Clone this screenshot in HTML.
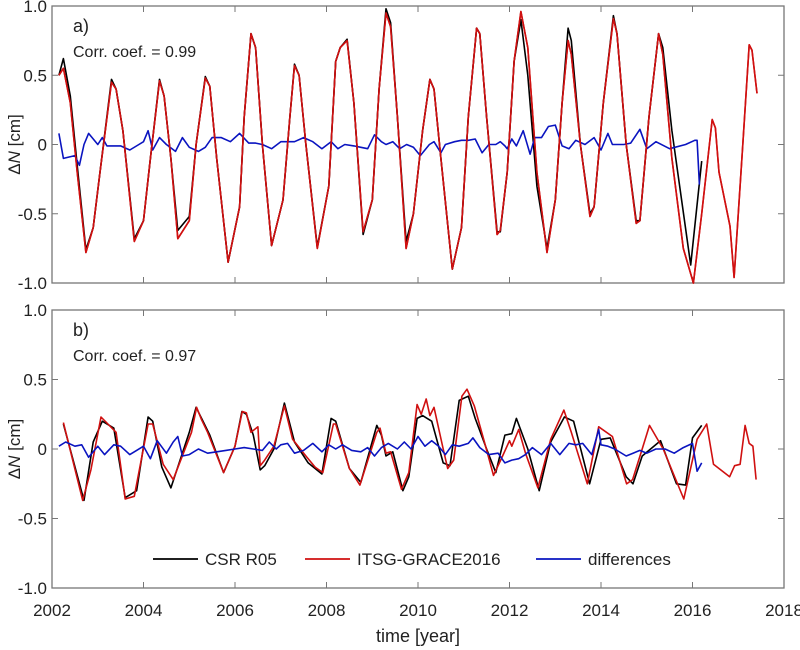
<!DOCTYPE html>
<html><head><meta charset="utf-8"><style>
body{margin:0;background:#fff;}
svg{display:block;font-family:"Liberation Sans",Arial,sans-serif;}
</style></head><body>
<svg id="chart" width="800" height="650" viewBox="0 0 800 650" xmlns="http://www.w3.org/2000/svg"></svg>
<script>
const xTicks=[2002,2004,2006,2008,2010,2012,2014,2016,2018];
const yTicks=[-1,-0.5,0,0.5,1];
const yTickLabels=["-1.0","-0.5","0","0.5","1.0"];
const topRedT=[2002.15,2002.25,2002.4,2002.55,2002.74,2002.9,2003.05,2003.3,2003.4,2003.55,2003.8,2004.0,2004.15,2004.35,2004.45,2004.6,2004.75,2005.0,2005.15,2005.35,2005.45,2005.6,2005.85,2006.1,2006.2,2006.35,2006.45,2006.6,2006.8,2007.05,2007.2,2007.3,2007.4,2007.55,2007.8,2008.05,2008.2,2008.3,2008.45,2008.6,2008.8,2009.0,2009.15,2009.3,2009.4,2009.55,2009.74,2009.9,2010.1,2010.26,2010.35,2010.5,2010.75,2010.95,2011.1,2011.28,2011.35,2011.5,2011.73,2011.8,2011.95,2012.1,2012.25,2012.4,2012.6,2012.82,2013.0,2013.15,2013.28,2013.35,2013.55,2013.76,2013.85,2014.05,2014.27,2014.35,2014.55,2014.77,2014.85,2015.05,2015.26,2015.35,2015.55,2015.8,2016.02,2016.2,2016.43,2016.5,2016.58,2016.82,2016.91,2017.1,2017.24,2017.3,2017.41];
const topRed=[0.5,0.55,0.3,-0.2,-0.78,-0.6,-0.2,0.45,0.4,0.1,-0.7,-0.55,-0.1,0.46,0.35,-0.1,-0.68,-0.55,0.0,0.48,0.42,-0.1,-0.85,-0.45,0.2,0.8,0.7,0.0,-0.73,-0.4,0.2,0.57,0.5,0.0,-0.75,-0.3,0.6,0.7,0.75,0.3,-0.63,-0.4,0.4,0.95,0.85,0.2,-0.75,-0.5,0.1,0.47,0.4,-0.1,-0.9,-0.6,0.2,0.84,0.8,0.2,-0.65,-0.62,-0.2,0.6,0.96,0.7,-0.2,-0.78,-0.4,0.3,0.75,0.65,0.0,-0.52,-0.45,0.3,0.91,0.8,0.0,-0.57,-0.55,0.2,0.8,0.65,-0.1,-0.75,-1.0,-0.5,0.18,0.12,-0.2,-0.59,-0.96,0.0,0.72,0.68,0.37];
const topBlackT=[2002.15,2002.25,2002.4,2002.55,2002.74,2002.9,2003.05,2003.3,2003.4,2003.55,2003.8,2004.0,2004.15,2004.35,2004.45,2004.6,2004.75,2005.0,2005.15,2005.35,2005.45,2005.6,2005.85,2006.1,2006.2,2006.35,2006.45,2006.6,2006.8,2007.05,2007.2,2007.3,2007.4,2007.55,2007.8,2008.05,2008.2,2008.3,2008.45,2008.6,2008.8,2009.0,2009.15,2009.3,2009.4,2009.55,2009.74,2009.9,2010.1,2010.26,2010.35,2010.5,2010.75,2010.95,2011.1,2011.28,2011.35,2011.5,2011.73,2011.8,2011.95,2012.1,2012.25,2012.4,2012.6,2012.82,2013.0,2013.15,2013.28,2013.35,2013.55,2013.76,2013.85,2014.05,2014.27,2014.35,2014.55,2014.77,2014.85,2015.05,2015.26,2015.35,2015.55,2015.96,2016.2];
const topBlack=[0.5,0.62,0.35,-0.15,-0.76,-0.6,-0.2,0.47,0.4,0.1,-0.68,-0.55,-0.1,0.47,0.35,-0.1,-0.62,-0.52,0.0,0.49,0.42,-0.1,-0.85,-0.45,0.2,0.8,0.7,0.0,-0.73,-0.4,0.2,0.58,0.5,0.0,-0.74,-0.3,0.6,0.7,0.76,0.3,-0.65,-0.4,0.4,0.98,0.88,0.2,-0.7,-0.5,0.1,0.47,0.4,-0.1,-0.9,-0.6,0.2,0.84,0.8,0.2,-0.63,-0.63,-0.2,0.6,0.9,0.5,-0.3,-0.75,-0.4,0.3,0.84,0.75,0.0,-0.5,-0.45,0.3,0.93,0.8,0.0,-0.55,-0.55,0.2,0.8,0.7,0.1,-0.87,-0.12];
const topBlueT=[2002.15,2002.25,2002.5,2002.6,2002.7,2002.8,2003.0,2003.1,2003.2,2003.35,2003.5,2003.7,2003.9,2004.0,2004.1,2004.2,2004.35,2004.5,2004.7,2004.85,2005.0,2005.2,2005.35,2005.5,2005.7,2005.9,2006.1,2006.3,2006.45,2006.6,2006.8,2007.0,2007.15,2007.3,2007.5,2007.7,2007.9,2008.1,2008.25,2008.4,2008.6,2008.75,2008.9,2009.05,2009.2,2009.3,2009.45,2009.6,2009.75,2009.9,2010.05,2010.25,2010.35,2010.5,2010.6,2010.8,2010.95,2011.1,2011.25,2011.4,2011.55,2011.7,2011.8,2011.9,2011.95,2012.05,2012.15,2012.3,2012.45,2012.55,2012.7,2012.85,2013.0,2013.15,2013.3,2013.45,2013.65,2013.85,2014.0,2014.15,2014.25,2014.4,2014.5,2014.65,2014.85,2015.0,2015.2,2015.5,2015.85,2016.05,2016.1,2016.15];
const topBlue=[0.08,-0.1,-0.08,-0.15,0.0,0.08,0.0,0.05,-0.01,-0.01,-0.01,-0.04,0.0,0.02,0.1,-0.04,0.05,0.0,-0.05,0.05,-0.02,-0.05,-0.02,0.05,0.05,0.02,0.08,0.01,0.01,0.0,-0.03,0.02,0.02,0.02,0.05,0.02,-0.03,0.02,-0.03,0.0,-0.01,-0.02,-0.03,0.07,0.02,0.0,0.02,-0.03,0.0,-0.02,-0.08,0.0,0.02,-0.06,0.0,0.02,0.03,0.03,0.04,-0.06,0.0,0.0,0.02,-0.01,-0.03,0.04,-0.01,0.1,-0.07,0.05,0.05,0.13,0.14,-0.01,-0.03,0.03,0.0,0.05,-0.04,0.08,0.0,0.0,0.0,0.01,0.11,-0.03,0.02,-0.03,0.0,0.03,0.03,-0.29];
const botRedT=[2002.25,2002.67,2002.85,2003.07,2003.4,2003.6,2003.8,2004.1,2004.2,2004.43,2004.65,2005.05,2005.16,2005.27,2005.4,2005.75,2006.0,2006.16,2006.25,2006.35,2006.5,2006.55,2006.65,2006.85,2007.08,2007.26,2007.55,2007.75,2007.92,2008.15,2008.2,2008.5,2008.73,2009.1,2009.17,2009.3,2009.4,2009.64,2009.8,2009.98,2010.07,2010.18,2010.26,2010.35,2010.55,2010.65,2010.78,2010.96,2011.07,2011.23,2011.46,2011.65,2011.85,2012.0,2012.05,2012.2,2012.35,2012.62,2012.9,2013.19,2013.35,2013.7,2013.95,2014.25,2014.56,2014.69,2014.9,2015.06,2015.36,2015.81,2016.1,2016.31,2016.46,2016.81,2016.92,2017.04,2017.15,2017.24,2017.32,2017.39];
const botRed=[0.19,-0.37,-0.15,0.23,0.12,-0.36,-0.34,0.18,0.18,-0.11,-0.22,0.12,0.30,0.21,0.12,-0.17,0.02,0.27,0.26,0.12,0.16,-0.12,-0.08,0.02,0.31,0.07,-0.05,-0.13,-0.17,0.18,0.18,-0.14,-0.26,0.12,0.15,-0.03,-0.02,-0.29,-0.17,0.32,0.25,0.36,0.24,0.30,0.0,-0.14,-0.08,0.38,0.43,0.31,0.04,-0.19,-0.05,0.06,0.02,0.14,-0.03,-0.28,0.07,0.28,0.12,-0.25,0.16,0.09,-0.25,-0.22,0.0,0.17,0.0,-0.36,0.07,0.18,-0.11,-0.2,-0.12,-0.11,0.17,0.04,0.02,-0.22];
const botBlackT=[2002.25,2002.7,2002.9,2003.1,2003.35,2003.6,2003.85,2004.1,2004.2,2004.4,2004.6,2005.0,2005.15,2005.3,2005.45,2005.75,2006.0,2006.15,2006.25,2006.4,2006.55,2006.65,2006.85,2007.08,2007.3,2007.6,2007.9,2008.1,2008.2,2008.5,2008.75,2009.1,2009.2,2009.3,2009.45,2009.67,2009.8,2009.98,2010.1,2010.2,2010.3,2010.55,2010.7,2010.9,2011.1,2011.25,2011.5,2011.7,2011.9,2012.05,2012.15,2012.4,2012.65,2012.9,2013.2,2013.4,2013.75,2014.0,2014.2,2014.55,2014.7,2014.9,2015.3,2015.65,2015.85,2016.0,2016.2];
const botBlack=[0.18,-0.37,0.05,0.2,0.15,-0.35,-0.3,0.23,0.2,-0.13,-0.28,0.12,0.3,0.2,0.1,-0.17,0.02,0.27,0.25,0.1,-0.15,-0.12,0.0,0.33,0.05,-0.1,-0.18,0.22,0.2,-0.14,-0.24,0.17,0.1,-0.05,-0.02,-0.3,-0.2,0.22,0.24,0.22,0.2,-0.1,-0.12,0.35,0.38,0.22,0.0,-0.17,0.1,0.11,0.22,0.0,-0.3,0.05,0.23,0.2,-0.25,0.07,0.08,-0.2,-0.25,-0.05,0.06,-0.25,-0.26,0.08,0.17];
const botBlueT=[2002.15,2002.3,2002.5,2002.65,2002.8,2003.0,2003.15,2003.35,2003.5,2003.7,2003.85,2004.0,2004.15,2004.3,2004.5,2004.65,2004.75,2004.85,2005.0,2005.2,2005.4,2005.6,2005.8,2006.0,2006.2,2006.4,2006.6,2006.75,2006.9,2007.0,2007.15,2007.3,2007.5,2007.7,2007.9,2008.05,2008.2,2008.35,2008.55,2008.75,2008.9,2009.05,2009.2,2009.35,2009.55,2009.7,2009.85,2010.0,2010.15,2010.3,2010.45,2010.6,2010.75,2010.9,2011.1,2011.2,2011.35,2011.55,2011.75,2011.9,2012.05,2012.2,2012.35,2012.5,2012.7,2012.9,2013.1,2013.3,2013.45,2013.6,2013.8,2013.95,2014.0,2014.15,2014.3,2014.55,2014.7,2014.85,2015.0,2015.2,2015.4,2015.6,2015.8,2016.0,2016.1,2016.2];
const botBlue=[0.02,0.05,0.02,0.03,-0.06,0.02,-0.04,0.03,0.02,-0.04,-0.01,0.02,-0.07,0.06,-0.03,0.05,0.09,-0.05,-0.04,0.0,-0.03,-0.02,-0.01,0.0,0.01,0.0,-0.01,0.05,0.0,0.03,0.04,-0.03,-0.01,0.04,-0.02,0.03,0.0,0.03,-0.01,-0.02,0.01,-0.05,0.01,0.04,0.0,0.05,0.0,0.09,0.02,0.06,0.02,-0.04,0.03,0.02,0.04,0.08,0.01,-0.04,-0.03,-0.1,-0.08,-0.07,-0.04,0.01,-0.04,0.04,-0.04,0.04,0.03,0.04,-0.04,0.14,0.03,0.02,0.0,-0.05,-0.03,-0.01,-0.03,0.0,0.0,-0.03,0.01,0.04,-0.16,-0.1];

const NS='http://www.w3.org/2000/svg';
const svg=document.getElementById('chart');
const X0=52,X1=784;
function xs(t){return X0+(t-2002)/(2018-2002)*(X1-X0);}
function mk(tag,attrs,parent){const e=document.createElementNS(NS,tag);for(const k in attrs)e.setAttribute(k,attrs[k]);(parent||svg).appendChild(e);return e;}
function panel(key,top,bot,showX,label,corr,series){
  const g=mk('g',{});
  
  
  const ys=v=>top+(1-v)/2*(bot-top);
  const box=mk('rect',{x:X0,y:top,width:X1-X0,height:bot-top,fill:'none',stroke:'#777','stroke-width':1.3},g);
  
  
  xTicks.forEach(t=>{const x=xs(t);
    mk('line',{x1:x,x2:x,y1:bot,y2:bot-6,stroke:'#777'},g);
    mk('line',{x1:x,x2:x,y1:top,y2:top+6,stroke:'#777'},g);
    if(showX){const tx=mk('text',{x:x,y:bot+28,'text-anchor':'middle','font-size':17,fill:'#222'},g);tx.textContent=t;
      
      }
  });
  yTicks.forEach((v,i)=>{const y=ys(v);
    mk('line',{x1:X0,x2:X0+6,y1:y,y2:y,stroke:'#777'},g);
    mk('line',{x1:X1,x2:X1-6,y1:y,y2:y,stroke:'#777'},g);
    const tx=mk('text',{x:X0-5,y:y+6,'text-anchor':'end','font-size':17,fill:'#222'},g);tx.textContent=yTickLabels[i];
    
    
  });
  const yt=mk('text',{transform:`translate(20,${(top+bot)/2}) rotate(-90)`,'text-anchor':'middle','font-size':17,fill:'#222'},g);
  yt.innerHTML='ΔN [cm]'.replace('N','<tspan font-style="italic">N</tspan>');
  
  
  const lb=mk('text',{x:73,y:top+26,'font-size':18,fill:'#222'},g);lb.textContent=label;
  
  
  const cc=mk('text',{x:73,y:top+51,'font-size':16,fill:'#222'},g);cc.textContent=corr;
  
  
  series.forEach(s=>{
    const d=s.t.map((t,i)=>(i?'L':'M')+xs(t).toFixed(1)+','+ys(s.v[i]).toFixed(1)).join('');
    const p=mk('path',{d:d,fill:'none',stroke:s.c,'stroke-width':1.6,'stroke-linejoin':'round'},g);
    
    
  });
}
panel('top',6,283,false,'a)','Corr. coef. = 0.99',[
 {n:'itsg',t:topRedT,v:topRed,c:'#d01010'},{n:'csr',t:topBlackT,v:topBlack,c:'#000'},{n:'differences',t:topBlueT,v:topBlue,c:'#0a14c0'},
 {n:'itsg-over',t:topRedT,v:topRed,c:'#d01010'}]);
panel('bottom',310,588,true,'b)','Corr. coef. = 0.97',[
 {n:'csr',t:botBlackT,v:botBlack,c:'#000'},{n:'itsg',t:botRedT,v:botRed,c:'#d01010'},{n:'differences',t:botBlueT,v:botBlue,c:'#0a14c0'}]);
const xt=mk('text',{x:418,y:642,'text-anchor':'middle','font-size':18,fill:'#222'});xt.textContent='time [year]';


const lg=mk('g',{});


[['CSR R05','#000',153],['ITSG-GRACE2016','#d01010',305],['differences','#0a14c0',536]].forEach(e=>{
  const it=mk('g',{},lg);
  
  
  mk('line',{x1:e[2],x2:e[2]+45,y1:559,y2:559,stroke:e[1],'stroke-width':1.8},it);
  const t=mk('text',{x:e[2]+52,y:565,'font-size':17,fill:'#222'},it);t.textContent=e[0];
});
</script>
</body></html>
